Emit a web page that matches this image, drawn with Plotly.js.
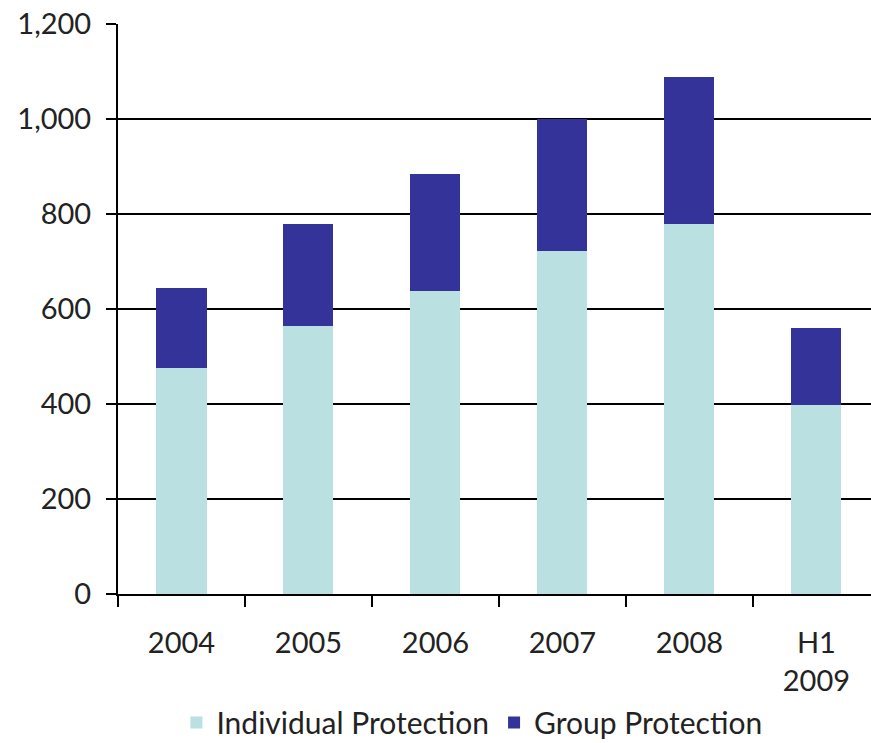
<!DOCTYPE html>
<html>
<head>
<meta charset="utf-8">
<script src="https://cdn.plot.ly/plotly-3.0.1.min.js"></script>
<style>html,body{margin:0;padding:0;background:#fff;}#chart{width:871px;height:743px;}</style>
</head>
<body>
<div id="chart"></div>
<script>
const categories = ["2004", "2005", "2006", "2007", "2008", "H1<br>2009"];
const individualProtection = [476, 565, 638, 723, 780, 398];
const groupProtection = [169, 215, 247, 277, 309, 162];
const yTickValues = [0, 200, 400, 600, 800, 1000, 1200];
const yTickLabels = ["0", "200", "400", "600", "800", "1,000", "1,200"];

const fontFamily = "Lato, 'Open Sans', sans-serif";

const traces = [
  {
    type: "bar",
    name: "Individual Protection",
    x: categories,
    y: individualProtection,
    marker: {color: "#BAE0E2"},
    width: 0.394
  },
  {
    type: "bar",
    name: "Group Protection",
    x: categories,
    y: groupProtection,
    marker: {color: "#333399"},
    width: 0.394
  }
];

const layout = {
  width: 871,
  height: 743,
  barmode: "stack",
  paper_bgcolor: "#fff",
  plot_bgcolor: "#fff",
  margin: {l: 118, r: 0, t: 24, b: 149, pad: 0, autoexpand: false},
  font: {family: fontFamily, size: 29, color: "#222"},
  showlegend: true,
  legend: {
    orientation: "h",
    traceorder: "normal",
    x: 0.47,
    xanchor: "center",
    y: -0.18,
    yanchor: "top",
    font: {family: fontFamily, size: 30, color: "#222"},
    itemwidth: 30,
    tracegroupgap: 0
  },
  xaxis: {
    type: "category",
    range: [-0.5, 5.43],
    showline: true,
    linecolor: "#000",
    linewidth: 2,
    ticks: "outside",
    tickson: "boundaries",
    ticklen: 11,
    tickwidth: 2,
    tickcolor: "#000",
    showgrid: false,
    zeroline: false,
    tickfont: {family: fontFamily, size: 29, color: "#222"},
    ticklabelstandoff: 22
  },
  yaxis: {
    range: [0, 1200],
    tickvals: yTickValues,
    ticktext: yTickLabels,
    showline: true,
    linecolor: "#000",
    linewidth: 2,
    ticks: "outside",
    ticklen: 10,
    tickwidth: 2,
    tickcolor: "#000",
    showgrid: true,
    gridcolor: "#000",
    gridwidth: 2,
    zeroline: false,
    tickfont: {family: fontFamily, size: 29, color: "#222"},
    ticklabelstandoff: 9
  }
};

Plotly.newPlot("chart", traces, layout, {displayModeBar: false, staticPlot: true});
</script>
</body>
</html>
